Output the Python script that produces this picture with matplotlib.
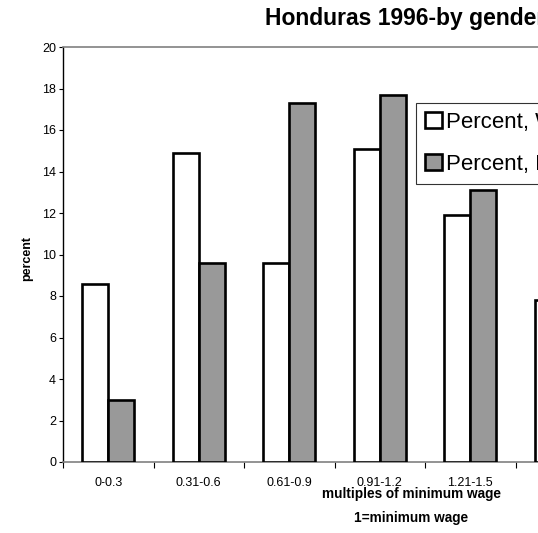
import matplotlib
matplotlib.use("Agg")
from matplotlib import pyplot as plt
import numpy as np

plt.rcParams['font.family'] = ['Liberation Sans', 'DejaVu Sans']

# wage brackets (the chart is cut off at the right edge)
categories = ["0-0.3", "0.31-0.6", "0.61-0.9", "0.91-1.2", "1.21-1.5", "1.51-2"]
women = [8.6, 14.9, 9.6, 15.1, 11.9, 7.8]
men = [3.0, 9.6, 17.3, 17.7, 13.1, 8.5]
n_slots = 8

fig = plt.figure(figsize=(5.38, 5.33), dpi=100)
slot = 90.5
ax = fig.add_axes([63 / 538, 71 / 533, n_slots * slot / 538, 415 / 533])

x = np.arange(len(categories))
w = 0.29
ax.bar(x - w / 2, women, w, color="white", edgecolor="black", linewidth=1.9,
       label="Percent, Women", zorder=3)
ax.bar(x + w / 2, men, w, color="#999999", edgecolor="black", linewidth=1.9,
       label="Percent, Men", zorder=3)

ax.set_xlim(-0.5, n_slots - 0.5)
ax.set_ylim(0, 20)
ax.set_yticks(range(0, 21, 2))
ax.tick_params(axis="y", labelsize=9, length=3, width=0.8, pad=2)

ax.set_xticks(np.arange(-0.5, n_slots, 1))
ax.set_xticklabels([])
ax.tick_params(axis="x", which="major", length=4, width=0.8)
ax.set_xticks(x, minor=True)
ax.set_xticklabels(categories, minor=True)
ax.tick_params(axis="x", which="minor", length=0, labelsize=9, pad=11)

for s in ["top", "right", "bottom"]:
    ax.spines[s].set_color("#808080")
    ax.spines[s].set_linewidth(1.2)
ax.spines["left"].set_color("black")
ax.spines["left"].set_linewidth(1.0)

ax.set_ylabel("percent", fontsize=9, fontweight="bold")
ax.yaxis.set_label_coords(-30 / (n_slots * slot), 0.49)

fig.text(265 / 538, 1 - 19 / 533, "Honduras 1996-by gender", fontsize=16.5,
         fontweight="bold", ha="left", va="center")
fig.text(411 / 538, 1 - 494 / 533, "multiples of minimum wage", fontsize=9.8,
         fontweight="bold", ha="center", va="center")
fig.text(411 / 538, 1 - 518 / 533, "1=minimum wage", fontsize=9.8,
         fontweight="bold", ha="center", va="center")

leg = ax.legend(loc="upper left", bbox_to_anchor=(416 / 538, 1 - 103 / 533),
                bbox_transform=fig.transFigure, fontsize=16, frameon=True,
                fancybox=False, edgecolor="black", handlelength=0.75,
                handleheight=0.75, handletextpad=0.2, borderpad=0.4,
                labelspacing=0.95, borderaxespad=0)
leg.get_frame().set_linewidth(0.8)

fig.savefig("out.png", dpi=100)
